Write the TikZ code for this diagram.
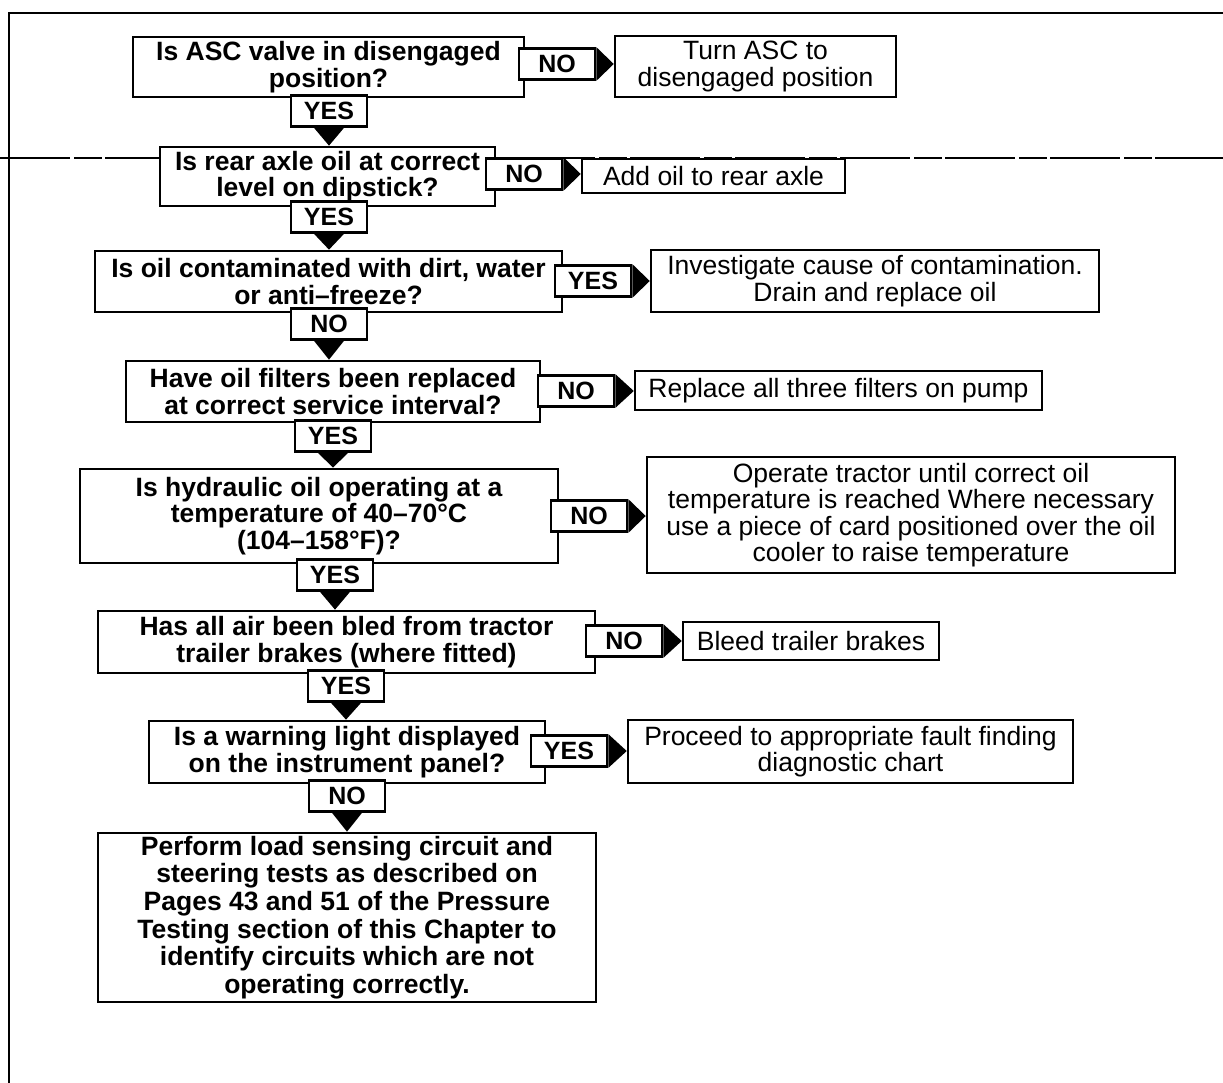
\documentclass[tikz,border=0pt]{standalone}
\usepackage{fontspec}
\setmainfont{Liberation Sans}
\begin{document}
\begin{tikzpicture}[x=1pt,y=-1pt,
  qbox/.style={draw, line width=2.7pt, fill=white, inner sep=0pt, align=center,
    font=\fontsize{26.5}{26.5}\selectfont\bfseries},
  abox/.style={draw, line width=2.5pt, fill=white, inner sep=0pt, align=center,
    font=\fontsize{26.5}{26.5}\selectfont},
  tag/.style={draw, line width=2.7pt, fill=white, inner sep=0pt,
    minimum width=76pt, minimum height=31pt,
    font=\fontsize{25}{25}\selectfont\bfseries},
  frame/.style={line width=2.6pt},
  fold/.style={line width=1.2pt, dash pattern=on 70pt off 4pt on 28pt off 3pt}
]
\useasboundingbox (0,0) rectangle (1223,1083);

% page frame and crease line
\coordinate (ftr) at (1223,13);
\coordinate (ftl) at (9,13);
\coordinate (fbl) at (9,1083);
\coordinate (cl) at (0,158);
\coordinate (cr) at (1223,158);
\draw[fold] (cl) -- (cr);
\draw[frame] (ftr) -- (ftl) -- (fbl);

% questions
\node[qbox, minimum width=391pt, minimum height=60pt] (q1) at (328.5,67)
  {Is ASC valve in disengaged\\position?};
\node[qbox, minimum width=335pt, minimum height=59pt] (q2) at (327.5,176.5)
  {Is rear axle oil at correct\\level on dipstick?};
\node[qbox, minimum width=467pt, minimum height=61pt] (q3) at (328.5,281.5)
  {Is oil contaminated with dirt, water\\or anti–freeze?};
\node[qbox, minimum width=414pt, minimum height=61pt] (q4) at (333,391.5)
  {Have oil filters been replaced\\at correct service interval?};
\node[qbox, minimum width=478pt, minimum height=94pt] (q5) at (319,516)
  {Is hydraulic oil operating at a\\temperature of 40–70°C\\(104–158°F)?};
\node[qbox, minimum width=497pt, minimum height=62pt] (q6) at (346.5,642)
  {Has all air been bled from tractor\\trailer brakes (where fitted)};
\node[qbox, minimum width=396pt, minimum height=62pt] (q7) at (347,752)
  {Is a warning light displayed\\on the instrument panel?};
\node[qbox, minimum width=498pt, minimum height=169pt,
  font=\fontsize{26.5}{27.6}\selectfont\bfseries] (q8) at (347,917.5)
  {Perform load sensing circuit and\\steering tests as described on\\Pages 43 and 51 of the Pressure\\Testing section of this Chapter to\\identify circuits which are not\\operating correctly.};

% actions
\node[abox, minimum width=281pt, minimum height=61pt] (a1) at (755.5,66.5)
  {Turn ASC to\\disengaged position};
\node[abox, minimum width=263pt, minimum height=34pt] (a2) at (713.5,176)
  {Add oil to rear axle};
\node[abox, minimum width=448pt, minimum height=62pt] (a3) at (875,281)
  {Investigate cause of contamination.\\Drain and replace oil};
\node[abox, minimum width=407pt, minimum height=39pt] (a4) at (838.5,390.5)
  {Replace all three filters on pump};
\node[abox, minimum width=528pt, minimum height=116pt] (a5) at (911,515)
  {Operate tractor until correct oil\\temperature is reached Where necessary\\use a piece of card positioned over the oil\\cooler to raise temperature};
\node[abox, minimum width=256pt, minimum height=38pt] (a6) at (811,641)
  {Bleed trailer brakes};
\node[abox, minimum width=445pt, minimum height=63pt] (a7) at (850.5,751.5)
  {Proceed to appropriate fault finding\\diagnostic chart};

% side answers
\node[tag] (r1) at (557,64) {NO};
\node[tag] (r2) at (524,174) {NO};
\node[tag] (r3) at (593,281) {YES};
\node[tag] (r4) at (576,391) {NO};
\node[tag] (r5) at (589,516) {NO};
\node[tag] (r6) at (624,641) {NO};
\node[tag] (r7) at (569,751) {YES};

% downward answers
\node[tag] (d1) at (329,111) {YES};
\node[tag] (d2) at (329,217) {YES};
\node[tag] (d3) at (329,324) {NO};
\node[tag] (d4) at (333,436) {YES};
\node[tag] (d5) at (335,575) {YES};
\node[tag] (d6) at (346,686) {YES};
\node[tag] (d7) at (347,796) {NO};

% arrowheads to the actions
\foreach \r/\a in {r1/a1, r2/a2, r3/a3, r4/a4, r5/a5, r6/a6, r7/a7}
  \fill (\r.north east) -- (\r.east -| \a.west) -- (\r.south east) -- cycle;

% arrowheads to the next question
\foreach \d/\q in {d1/q2, d2/q3, d3/q4, d4/q5, d5/q6, d6/q7, d7/q8}
  \fill ([xshift=-15pt]\d.south) -- (\d.center |- \q.north) -- ([xshift=15pt]\d.south) -- cycle;
\end{tikzpicture}
\end{document}
